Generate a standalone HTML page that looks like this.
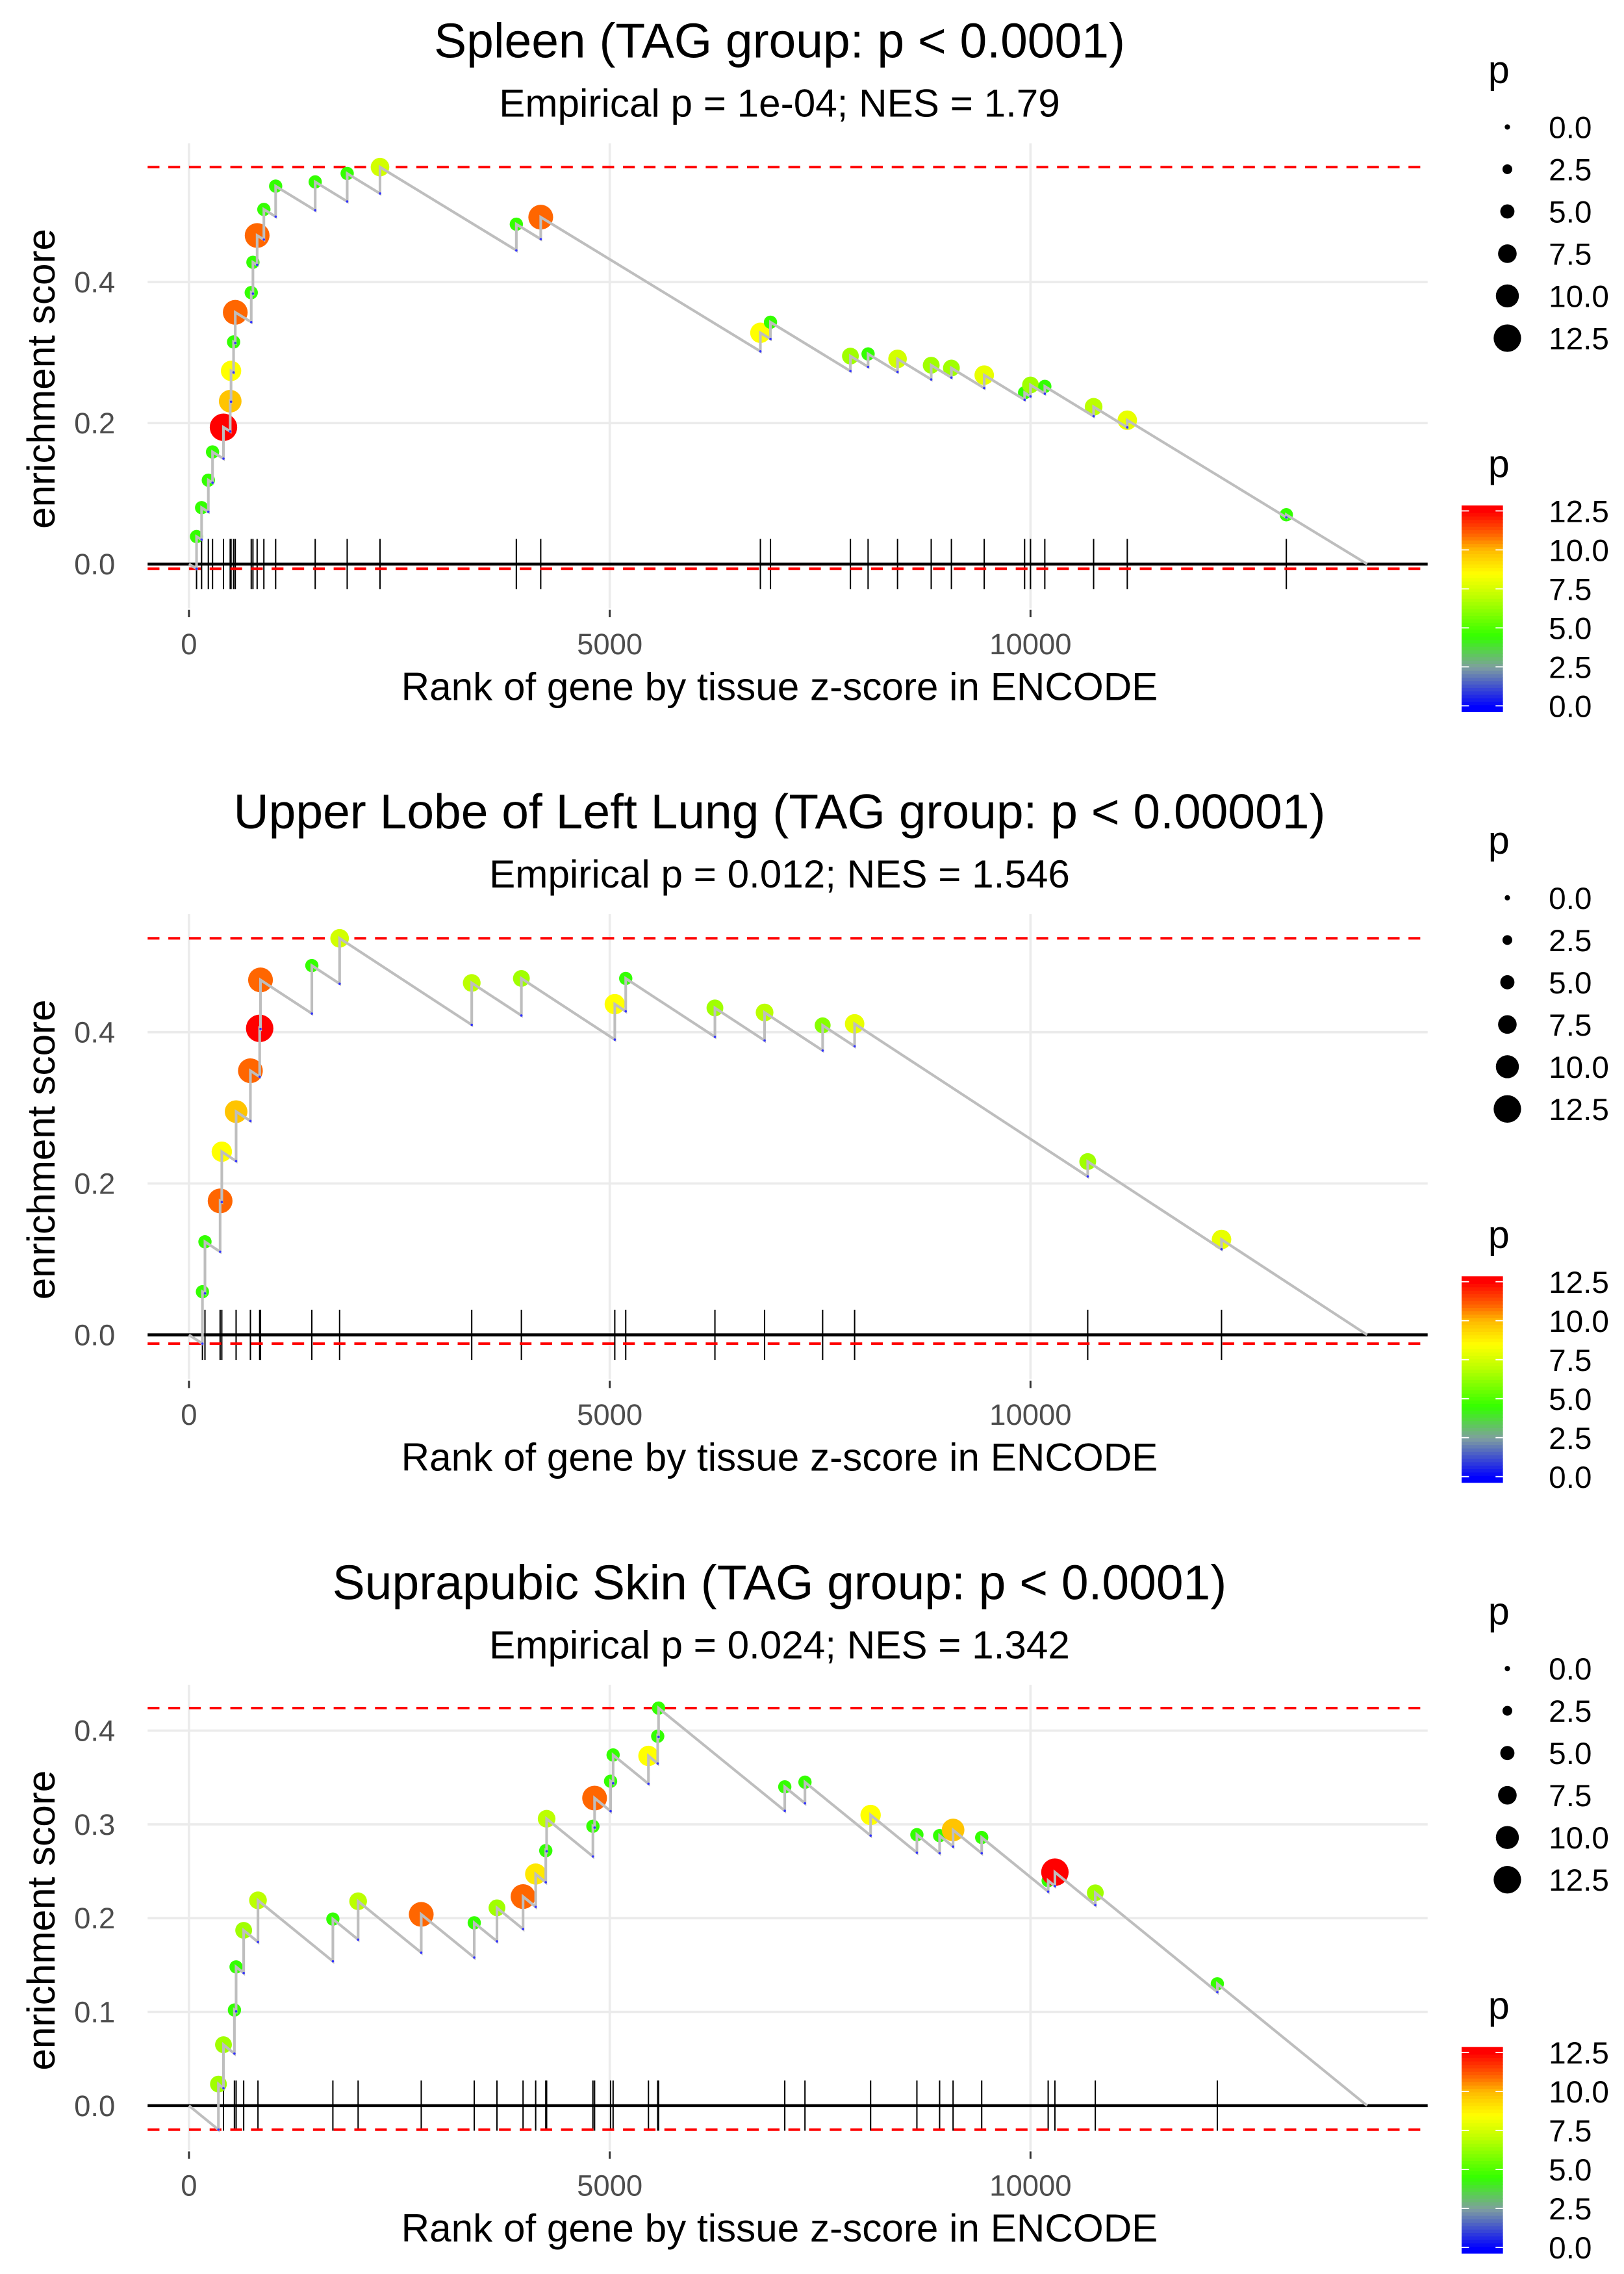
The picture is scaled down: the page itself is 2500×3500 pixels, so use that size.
<!DOCTYPE html>
<html><head><meta charset="utf-8">
<style>
html,body{margin:0;padding:0;background:#fff;}
svg{display:block;}
text{font-family:"Liberation Sans",Arial,sans-serif;}
</style></head>
<body>
<svg id="chart" width="2500" height="3500" viewBox="0 0 1100 1540" xmlns="http://www.w3.org/2000/svg"></svg>
<script>
// ---- data ----
const titles = ["Spleen (TAG group: p < 0.0001)", "Upper Lobe of Left Lung (TAG group: p < 0.00001)", "Suprapubic Skin (TAG group: p < 0.0001)"];
const subtitles = ["Empirical p = 1e-04; NES = 1.79", "Empirical p = 0.012; NES = 1.546", "Empirical p = 0.024; NES = 1.342"];
const nGenes = [14000, 14000, 14000];
const ranks1 = [90,150,230,280,410,490,500,530,550,740,760,810,890,1030,1500,1880,2270,3890,4180,6790,6910,7860,8070,8420,8820,9060,9450,9930,10000,10170,10750,11150,13040];
const es1 = [0.039,0.080,0.119,0.159,0.194,0.231,0.274,0.315,0.357,0.385,0.428,0.466,0.503,0.536,0.542,0.554,0.563,0.482,0.492,0.328,0.343,0.295,0.298,0.291,0.282,0.278,0.268,0.243,0.254,0.252,0.223,0.204,0.070];
const p1 = [4.5,4.5,4.5,4.5,12.5,9.8,8.5,4.5,11,4.5,4.5,11,4.5,4.5,4.5,4.5,7.5,4.5,11,8.5,4.5,6.5,4.5,7.5,6.5,6.5,8,4.5,6.5,4.5,7,8,4.5];
const ranks2 = [160,190,370,390,560,730,840,850,1460,1790,3360,3950,5060,5190,6250,6840,7530,7910,10680,12270];
const es2 = [0.057,0.123,0.177,0.242,0.295,0.349,0.405,0.469,0.488,0.524,0.465,0.471,0.437,0.471,0.432,0.426,0.409,0.411,0.229,0.126];
const p2 = [4.5,4.5,11,8.5,9.8,11,12.5,11,4.5,7.5,7,6.5,8.5,4.5,6.5,7,6,8,6.5,8];
const ranks3 = [350,410,540,560,650,820,1710,2010,2760,3390,3660,3970,4120,4240,4250,4800,4820,5010,5040,5460,5570,5580,7080,7320,8100,8650,8920,9080,9420,10210,10290,10770,12220];
const es3 = [0.023,0.065,0.102,0.148,0.187,0.219,0.199,0.218,0.204,0.195,0.211,0.223,0.247,0.272,0.306,0.298,0.328,0.346,0.374,0.373,0.394,0.424,0.340,0.345,0.310,0.289,0.288,0.294,0.286,0.240,0.249,0.227,0.130];
const p3 = [6.5,6.5,4.5,4.5,6.5,7,4.5,7,11,4.5,6.5,11,9,4.5,7,4.5,11,4.5,4.5,8.5,4.5,4.5,4.5,4.5,8.5,4.5,4.5,9.8,4.5,4.5,12.5,6.5,4.5];
const xTicks = [0, 5000, 10000];
const yTicks1 = [0, 0.2, 0.4];
const yTicks2 = [0, 0.2, 0.4];
const yTicks3 = [0, 0.1, 0.2, 0.3, 0.4];
const legendSizes = [0, 2.5, 5, 7.5, 10, 12.5];
const legendSizeLabels = ["0.0","2.5","5.0","7.5","10.0","12.5"];

// ---- layout ----
const NS = "http://www.w3.org/2000/svg";
const svg = document.getElementById('chart');
function el(tag, attrs, parent, txt){
  const e = document.createElementNS(NS, tag);
  for (const k in attrs) e.setAttribute(k, attrs[k]);
  if (txt !== undefined) e.textContent = txt;
  (parent || svg).appendChild(e);
  return e;
}
const colorStops = [[0,[0,0,255]],[2.5,[127,159,159]],[4.5,[51,255,0]],[7,[187,255,0]],[8.5,[255,255,0]],[10,[255,187,0]],[11,[255,102,0]],[12.5,[255,0,0]]];
function pColor(p){
  if (p <= colorStops[0][0]) return 'rgb(0,0,255)';
  for (let i=1;i<colorStops.length;i++){
    if (p <= colorStops[i][0]){
      const a=colorStops[i-1], b=colorStops[i], t=(p-a[0])/(b[0]-a[0]);
      const c=a[1].map((v,j)=>Math.round(v+(b[1][j]-v)*t));
      return 'rgb('+c.join(',')+')';
    }
  }
  return 'rgb(255,0,0)';
}
function pRadius(p){ return 1.8 + 0.6*p; }

const panels = [
  {ranks:ranks1, es:es1, p:p1, yTicks:yTicks1, off:0, y0:382, k:477.5},
  {ranks:ranks2, es:es2, p:p2, yTicks:yTicks2, off:522, y0:904, k:512.5},
  {ranks:ranks3, es:es3, p:p3, yTicks:yTicks3, off:1044, y0:1426, k:635}
];
const PX0 = 128, PXK = 0.057, LEFT = 100, RIGHT = 967;
function xs(r){ return PX0 + r*PXK; }

panels.forEach((P, pi) => {
  const g = el('g', {}, svg);
  
  
  const top = 97 + P.off, bottom = 412 + P.off;
  const ys = v => P.y0 - v*P.k;
  const N = nGenes[pi];

  let t = el('text', {x:528, y:39+P.off, 'font-size':33, 'text-anchor':'middle', fill:'#000'}, g, titles[pi]);
   
  t = el('text', {x:528, y:79+P.off, 'font-size':26.5, 'text-anchor':'middle', fill:'#000'}, g, subtitles[pi]);
   

  P.yTicks.forEach(v => {
    const l = el('line', {x1:LEFT, x2:RIGHT, y1:ys(v), y2:ys(v), stroke:'#ebebeb', 'stroke-width':1.6}, g);
     
    const tl = el('text', {x:78, y:ys(v)+7, 'font-size':20, 'text-anchor':'end', fill:'#4d4d4d'}, g, v.toFixed(1));
     
  });
  xTicks.forEach(v => {
    const l = el('line', {x1:xs(v), x2:xs(v), y1:top, y2:bottom, stroke:'#ebebeb', 'stroke-width':1.6}, g);
     
    const tm = el('line', {x1:xs(v), x2:xs(v), y1:bottom+1, y2:bottom+6, stroke:'#333', 'stroke-width':1.3}, g);
     
    const tl = el('text', {x:xs(v), y:443+P.off, 'font-size':20, 'text-anchor':'middle', fill:'#4d4d4d'}, g, String(v));
     
  });

  t = el('text', {x:528, y:474+P.off, 'font-size':26.5, 'text-anchor':'middle', fill:'#000'}, g, 'Rank of gene by tissue z-score in ENCODE');
   
  const yc = (top+bottom)/2 + 2;
  t = el('text', {x:37, y:yc, 'font-size':26.5, 'text-anchor':'middle', fill:'#000', transform:'rotate(-90 37 '+yc+')'}, g, 'enrichment score');
   

  const n = P.ranks.length;
  const slope = P.es[n-1] / (N - P.ranks[n-1]);
  const before = [];
  let prevR = 0, prevE = 0;
  for (let i=0;i<n;i++){
    before.push(prevE - slope*(P.ranks[i]-prevR));
    prevR = P.ranks[i]; prevE = P.es[i];
  }
  const maxE = Math.max(...P.es), minE = Math.min(0, ...before);

  P.ranks.forEach(r => {
    const l = el('line', {x1:xs(r), x2:xs(r), y1:P.y0-17, y2:P.y0+17, stroke:'#000', 'stroke-width':0.9}, g);
     
  });
  let zl = el('line', {x1:LEFT, x2:RIGHT, y1:P.y0, y2:P.y0, stroke:'#000', 'stroke-width':2}, g);
   
  [maxE, minE].forEach((v, j) => {
    const l = el('line', {x1:LEFT, x2:RIGHT, y1:ys(v), y2:ys(v), stroke:'#ff0000', 'stroke-width':1.7, 'stroke-dasharray':'8 6'}, g);
     
  });

  for (let i=0;i<n;i++){
    const c = el('circle', {cx:xs(P.ranks[i]), cy:ys(P.es[i]), r:pRadius(P.p[i]), fill:pColor(P.p[i])}, g);
     
  }
  let d = 'M' + xs(0) + ',' + ys(0);
  for (let i=0;i<n;i++){
    d += ' L' + xs(P.ranks[i]) + ',' + ys(before[i]) + ' L' + xs(P.ranks[i]) + ',' + ys(P.es[i]);
  }
  d += ' L' + xs(N) + ',' + ys(0);
  const path = el('path', {d:d, fill:'none', stroke:'#bebebe', 'stroke-width':1.8}, g);
   
  for (let i=0;i<n;i++){
    const c = el('circle', {cx:xs(P.ranks[i]), cy:ys(before[i]), r:0.8, fill:'#3333ff'}, g);
     
  }

  const lg = el('g', {}, g);
   
  t = el('text', {x:1008, y:56+P.off, 'font-size':26, fill:'#000'}, lg, 'p');
   
  legendSizes.forEach((v, j) => {
    const cy = 86 + j*28.6 + P.off;
    const c = el('circle', {cx:1021, cy:cy, r:pRadius(v), fill:'#000'}, lg);
     
    const tl = el('text', {x:1049, y:cy+7.5, 'font-size':21, fill:'#000'}, lg, legendSizeLabels[j]);
     
  });
  const cg = el('g', {}, g);
   
  t = el('text', {x:1008, y:323+P.off, 'font-size':26, fill:'#000'}, cg, 'p');
   
  const cb0 = 478 + P.off, cbk = 10.56;
  const steps = 60;
  for (let s=0;s<steps;s++){
    const v0 = -0.35 + (13.2/steps)*s, v1 = v0 + 13.2/steps;
    const r = el('rect', {x:990, y:cb0 - v1*cbk, width:28, height:(v1-v0)*cbk+0.5, fill:pColor(v0+0.11)}, cg);
     
  }
  legendSizes.forEach((v, j) => {
    const yy = cb0 - v*cbk;
    el('line', {x1:990, x2:995, y1:yy, y2:yy, stroke:'#fff', 'stroke-width':0.8}, cg);
    el('line', {x1:1013, x2:1018, y1:yy, y2:yy, stroke:'#fff', 'stroke-width':0.8}, cg);
    const tl = el('text', {x:1049, y:yy+7.5, 'font-size':21, fill:'#000'}, cg, legendSizeLabels[j]);
     
  });
});
</script>
</body></html>
